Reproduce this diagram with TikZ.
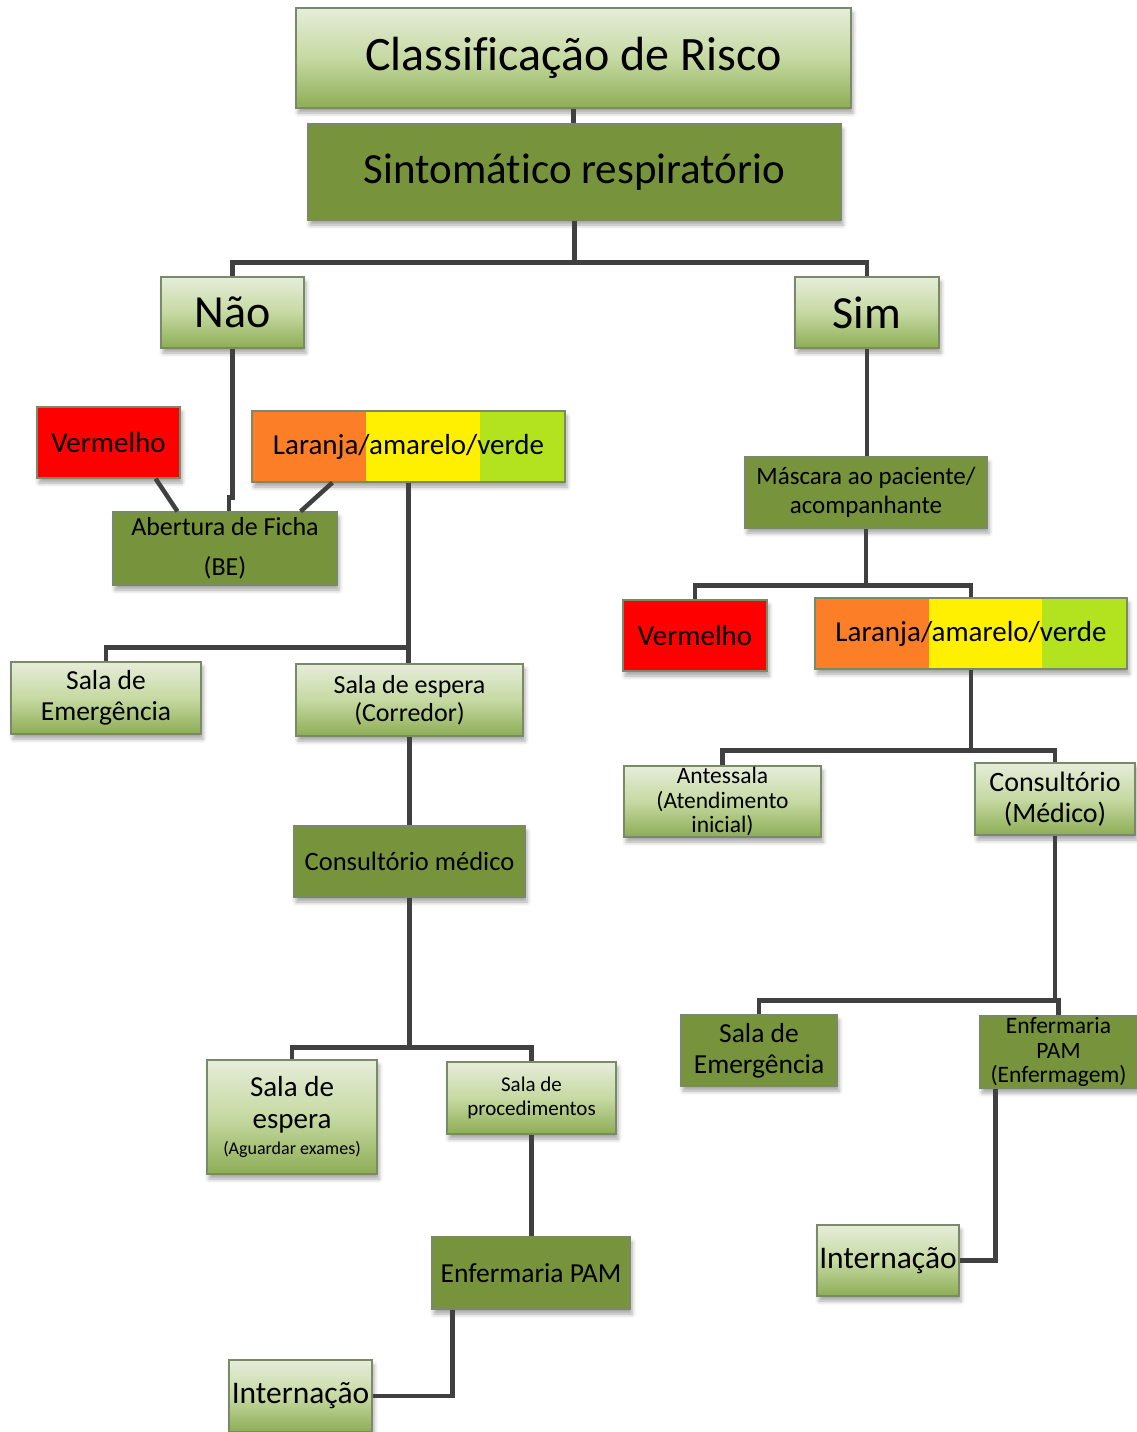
\documentclass[tikz,border=0pt]{standalone}
\usepackage{fontspec}
\setmainfont{Carlito}[Ligatures={NoCommon,NoRequired,NoContextual}]
\usetikzlibrary{calc,shadows.blur}
\definecolor{lighttop}{HTML}{E6EDDA}
\definecolor{lightmid}{HTML}{C6D9A2}
\definecolor{lightbot}{HTML}{8DAD55}
\definecolor{darkgreen}{HTML}{77933C}
\definecolor{boxline}{HTML}{7A8A68}
\definecolor{linkgray}{HTML}{404040}
\definecolor{laranja}{HTML}{FC7F28}
\definecolor{amarelo}{HTML}{FFF000}
\definecolor{verde}{HTML}{B3E31E}
\definecolor{vermelho}{HTML}{FF0000}
\tikzset{
  box/.style={draw=boxline, line width=1.2pt, inner sep=0pt, align=center,
    blur shadow={shadow xshift=2pt, shadow yshift=-5pt, shadow blur radius=4pt, shadow opacity=35}},
  lightbox/.style={box, top color=lighttop, bottom color=lightbot, middle color=lightmid},
  darkbox/.style={box, fill=darkgreen},
  redbox/.style={box, fill=vermelho},
  tribox/.style={box, path picture={
    \fill[laranja] (path picture bounding box.south west) rectangle ($(path picture bounding box.north west)!0.364!(path picture bounding box.north east)$);
    \fill[amarelo] ($(path picture bounding box.south west)!0.364!(path picture bounding box.south east)$) rectangle ($(path picture bounding box.north west)!0.728!(path picture bounding box.north east)$);
    \fill[verde] ($(path picture bounding box.south west)!0.728!(path picture bounding box.south east)$) rectangle (path picture bounding box.north east);}},
  sz/.style 2 args={minimum width=#1pt, minimum height=#2pt},
  txt/.style 2 args={font=\fontsize{#1}{#2}\selectfont},
  link/.style={draw=linkgray, line width=4.5pt}
}
\begin{document}
\begin{tikzpicture}[x=1pt,y=-1pt]
\useasboundingbox (0,0) rectangle (1137,1432);

% top
\node[lightbox, sz={555}{100}, txt={48}{52}] (risco) at (573.5,58) {Classificação de Risco};
\node[darkbox, sz={533}{96}, txt={43}{48}] (sintoma) at (574.5,172) {Sintomático respiratório};
\node[lightbox, sz={143}{71}, txt={46}{50}] (nao) at (232.5,312.5) {Não};
\node[lightbox, sz={144}{71}, txt={46}{50}] (sim) at (867,312.5) {Sim};

% left branch
\node[redbox, sz={143}{71}, txt={29}{32}] (verm1) at (108.5,442.5) {Vermelho};
\node[tribox, sz={313}{71}, txt={29}{32}] (lar1) at (408.5,446.5) {Laranja/amarelo/verde};
\node[darkbox, sz={224}{73}, txt={26}{40}] (ficha) at (225,548.5) {Abertura de Ficha\\(BE)};
\node[lightbox, sz={190}{72}, txt={27.5}{31}] (emerg1) at (106,698) {Sala de\\Emergência};
\node[lightbox, sz={227}{72}, txt={26}{28}] (espera1) at (409.5,700) {Sala de espera\\(Corredor)};
\node[darkbox, sz={231}{71}, txt={26.5}{30}] (consult1) at (409.5,861.5) {Consultório médico};
\node[lightbox, sz={170}{114}, txt={29}{32}] (espera2) at (292,1117) {Sala de\\espera\\[-6pt]{\fontsize{18}{20}\selectfont (Aguardar exames)}};
\node[lightbox, sz={169}{72}, txt={21}{24}] (proced) at (531.5,1098) {Sala de\\procedimentos};
\node[darkbox, sz={198}{72}, txt={27.5}{31}] (enferm1) at (531,1273) {Enfermaria PAM};
\node[lightbox, sz={143}{72}, txt={31.5}{34}] (intern1) at (300.5,1396) {Internação};

% right branch
\node[darkbox, sz={242}{71}, txt={25}{29}] (mascara) at (866,492.5) {Máscara ao paciente/\\acompanhante};
\node[redbox, sz={144}{71}, txt={29}{32}] (verm2) at (695,635.5) {Vermelho};
\node[tribox, sz={312}{71}, txt={29}{32}] (lar2) at (971,633.5) {Laranja/amarelo/verde};
\node[lightbox, sz={197}{71}, txt={23.5}{24.5}] (antessala) at (722.5,801.5) {Antessala\\(Atendimento\\inicial)};
\node[lightbox, sz={160}{72}, txt={28}{31}] (consult2) at (1055,799) {Consultório\\(Médico)};
\node[darkbox, sz={156}{71}, txt={27.5}{31}] (emerg2) at (759,1050.5) {Sala de\\Emergência};
\node[darkbox, sz={157}{72}, txt={23.5}{24.5}] (enferm2) at (1058.5,1052) {Enfermaria\\PAM\\(Enfermagem)};
\node[lightbox, sz={142}{71}, txt={31.5}{34}] (intern2) at (888,1260.5) {Internação};

% links
\draw[link] (risco.south) -- (risco.south |- sintoma.north);
\draw[link] (sintoma.south) -- ++(0,42) coordinate (jtop) -| (nao.north);
\draw[link] (jtop) -| (sim.north);
\draw[link] (nao.south) -- ++(0,149) -| ([xshift=4pt]ficha.north);
\draw[link] ([xshift=-25pt]verm1.south east) -- ([xshift=65pt]ficha.north west);
\draw[link] ([xshift=81pt]lar1.south west) -- ([xshift=-37pt]ficha.north east);
\draw[link] (lar1.south) -- ++(0,165) coordinate (jlar1) -| (emerg1.north);
\draw[link] (jlar1) -- (jlar1 |- espera1.north);
\draw[link] (espera1.south) -- (consult1.north);
\draw[link] (consult1.south) -- ++(0,150) coordinate (jcons1) -| (espera2.north);
\draw[link] (jcons1) -| (proced.north);
\draw[link] (proced.south) -- (proced.south |- enferm1.north);
\draw[link] ([xshift=21pt]enferm1.south west) |- (intern1.east);
\draw[link] (sim.south) -- (sim.south |- mascara.north);
\draw[link] (mascara.south) -- ++(0,57) coordinate (jmasc) -| (verm2.north);
\draw[link] (jmasc) -| (lar2.north);
\draw[link] (lar2.south) -- ++(0,81) coordinate (jlar2) -| (antessala.north);
\draw[link] (jlar2) -| (consult2.north);
\draw[link] (consult2.south) -- ++(0,165) coordinate (jcons2) -| (emerg2.north);
\draw[link] (jcons2) -| (enferm2.north);
\draw[link] ([xshift=16pt]enferm2.south west) |- (intern2.east);
\end{tikzpicture}
\end{document}
